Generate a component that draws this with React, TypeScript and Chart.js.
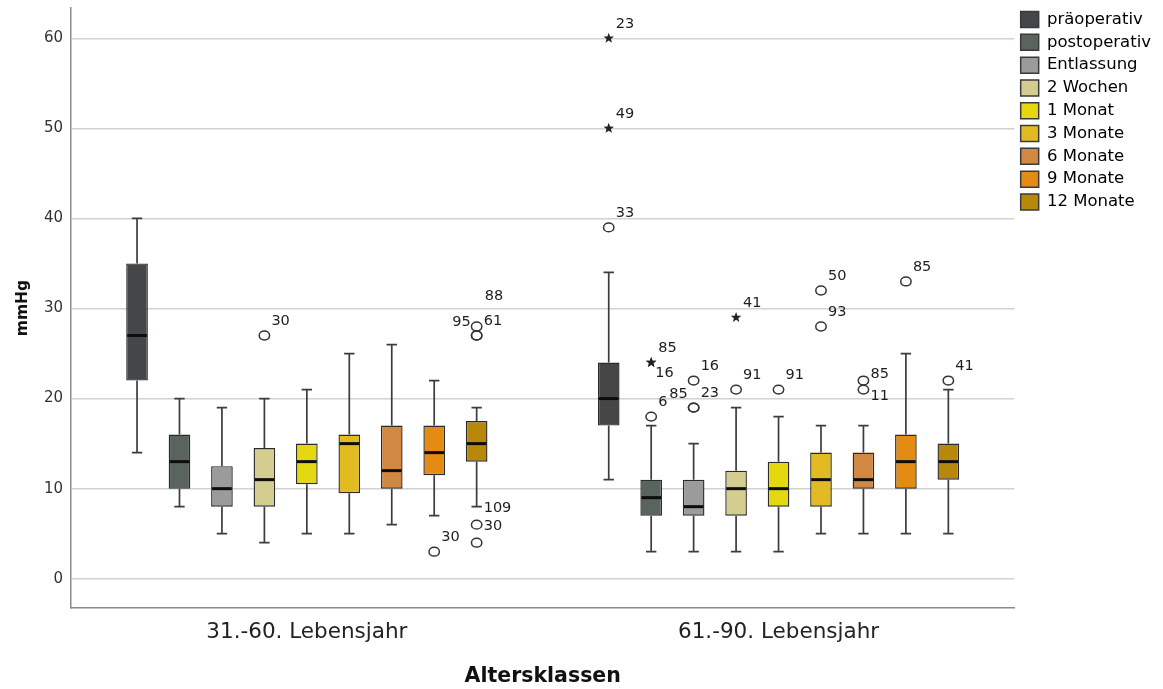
import React, { useEffect, useRef } from 'react';
import { Chart, registerables } from 'chart.js';

Chart.register(...registerables);

// Categories and series
const ageGroups = ['31.-60. Lebensjahr', '61.-90. Lebensjahr'];
const seriesNames = [
  'präoperativ',
  'postoperativ',
  'Entlassung',
  '2 Wochen',
  '1 Monat',
  '3 Monate',
  '6 Monate',
  '9 Monate',
  '12 Monate',
];
const seriesColors = [
  '#444648',
  '#5a645e',
  '#9b9b9b',
  '#d4cd90',
  '#e4d810',
  '#e2bb22',
  '#d08843',
  '#e38b12',
  '#b8880b',
];

// Box statistics for 31.-60. Lebensjahr (one entry per series)
const lowerWhisker31 = [14, 8, 5, 4, 5, 5, 6, 7, 8];
const lowerQuartile31 = [22, 10, 8, 8, 10.5, 9.5, 10, 11.5, 13];
const median31 = [27, 13, 10, 11, 13, 15, 12, 14, 15];
const upperQuartile31 = [35, 16, 12.5, 14.5, 15, 16, 17, 17, 17.5];
const upperWhisker31 = [40, 20, 19, 20, 21, 25, 26, 22, 19];

// Box statistics for 61.-90. Lebensjahr
const lowerWhisker61 = [11, 3, 3, 3, 3, 5, 5, 5, 5];
const lowerQuartile61 = [17, 7, 7, 7, 8, 8, 10, 10, 11];
const median61 = [20, 9, 8, 10, 10, 11, 11, 13, 13];
const upperQuartile61 = [24, 11, 11, 12, 13, 14, 14, 16, 15];
const upperWhisker61 = [34, 17, 15, 19, 18, 17, 17, 25, 21];

// Outliers: series index, value, case number, marker ('o' outlier, '*' extreme, '' case label only)
const outlierSeries31 = [3, 7, 8, 8, 8, 8, 8, 8];
const outlierValues31 = [27, 3, 28, 27, 27, 8, 6, 4];
const outlierCases31 = ['30', '30', '88', '95', '61', '109', '30', ''];
const outlierMarks31 = ['o', 'o', 'o', 'o', 'o', '', 'o', 'o'];

const outlierSeries61 = [0, 0, 0, 1, 1, 1, 2, 2, 2, 3, 3, 4, 5, 5, 6, 6, 7, 8];
const outlierValues61 = [39, 50, 60, 24, 24, 18, 22, 19, 19, 21, 29, 21, 32, 28, 22, 21, 33, 22];
const outlierCases61 = ['33', '49', '23', '85', '16', '6', '16', '85', '23', '91', '41', '91', '50', '93', '85', '11', '85', '41'];
const outlierMarks61 = ['o', '*', '*', '*', '*', 'o', 'o', 'o', 'o', 'o', '*', 'o', 'o', 'o', 'o', 'o', 'o', 'o'];

// Where each case number sits next to its marker
const caseLabelSpots31 = ['ne', 'ne', 'nn', 'nw', 'ne', 'e', 'e', 'ne'];
const caseLabelSpots61 = ['ne', 'ne', 'ne', 'ne', 'se', 'ne', 'ne', 'nw', 'ne', 'ne', 'ne', 'ne', 'ne', 'ne', 'ene', 'ese', 'ne', 'ne'];

const spotOffsets: Record<string, [number, number, CanvasTextAlign]> = {
  ne: [7, -14, 'left'],
  nn: [8, -30, 'left'],
  nw: [-6, -13, 'right'],
  e: [7, 2, 'left'],
  se: [4, 11, 'left'],
  ene: [7, -6, 'left'],
  ese: [7, 7, 'left'],
};

const groupStats = [
  {
    low: lowerWhisker31,
    q1: lowerQuartile31,
    med: median31,
    q3: upperQuartile31,
    high: upperWhisker31,
    oSeries: outlierSeries31,
    oValues: outlierValues31,
    oCases: outlierCases31,
    oMarks: outlierMarks31,
    oSpots: caseLabelSpots31,
  },
  {
    low: lowerWhisker61,
    q1: lowerQuartile61,
    med: median61,
    q3: upperQuartile61,
    high: upperWhisker61,
    oSeries: outlierSeries61,
    oValues: outlierValues61,
    oCases: outlierCases61,
    oMarks: outlierMarks61,
    oSpots: caseLabelSpots61,
  },
];

const FONT = 'DejaVu Sans';

function drawStar(ctx: CanvasRenderingContext2D, cx: number, cy: number, r: number) {
  const inner = r * 0.42;
  ctx.beginPath();
  for (let k = 0; k < 10; k++) {
    const rad = k % 2 === 0 ? r : inner;
    const a = -Math.PI / 2 + (k * Math.PI) / 5;
    const px = cx + rad * Math.cos(a);
    const py = cy + rad * Math.sin(a);
    if (k === 0) ctx.moveTo(px, py);
    else ctx.lineTo(px, py);
  }
  ctx.closePath();
  ctx.fill();
}

// Whiskers, medians and outliers drawn around the floating bars (the boxes)
const boxPlotParts = {
  id: 'boxPlotParts',
  beforeDatasetsDraw(chart: any) {
    const ctx: CanvasRenderingContext2D = chart.ctx;
    const y = chart.scales.y;
    ctx.save();
    ctx.strokeStyle = '#3c3c3c';
    ctx.lineWidth = 1.7;
    chart.data.datasets.forEach((_ds: any, si: number) => {
      const meta = chart.getDatasetMeta(si);
      meta.data.forEach((bar: any, gi: number) => {
        const st = groupStats[gi];
        const x = bar.x;
        const cap = bar.width * 0.24;
        const yLow = y.getPixelForValue(st.low[si]);
        const yQ1 = y.getPixelForValue(st.q1[si]);
        const yQ3 = y.getPixelForValue(st.q3[si]);
        const yHigh = y.getPixelForValue(st.high[si]);
        ctx.beginPath();
        ctx.moveTo(x, yQ1);
        ctx.lineTo(x, yLow);
        ctx.moveTo(x - cap, yLow);
        ctx.lineTo(x + cap, yLow);
        ctx.moveTo(x, yQ3);
        ctx.lineTo(x, yHigh);
        ctx.moveTo(x - cap, yHigh);
        ctx.lineTo(x + cap, yHigh);
        ctx.stroke();
      });
    });
    ctx.restore();
  },
  afterDatasetsDraw(chart: any) {
    const ctx: CanvasRenderingContext2D = chart.ctx;
    const y = chart.scales.y;
    ctx.save();
    // medians
    ctx.strokeStyle = '#0d0d0d';
    ctx.lineWidth = 3;
    chart.data.datasets.forEach((_ds: any, si: number) => {
      const meta = chart.getDatasetMeta(si);
      meta.data.forEach((bar: any, gi: number) => {
        const st = groupStats[gi];
        const ym = y.getPixelForValue(st.med[si]);
        ctx.beginPath();
        ctx.moveTo(bar.x - bar.width / 2 + 1, ym);
        ctx.lineTo(bar.x + bar.width / 2 - 1, ym);
        ctx.stroke();
      });
    });
    // outliers and case numbers
    ctx.font = `14.5px "${FONT}"`;
    ctx.textBaseline = 'middle';
    groupStats.forEach((st, gi) => {
      st.oValues.forEach((v, k) => {
        const bar = chart.getDatasetMeta(st.oSeries[k]).data[gi];
        const x = bar.x;
        const py = y.getPixelForValue(v);
        const mark = st.oMarks[k];
        if (mark === 'o') {
          ctx.strokeStyle = '#333333';
          ctx.lineWidth = 1.5;
          ctx.beginPath();
          ctx.ellipse(x, py, 5.2, 4.4, 0, 0, Math.PI * 2);
          ctx.stroke();
        } else if (mark === '*') {
          ctx.fillStyle = '#222222';
          drawStar(ctx, x, py, 5.5);
        }
        const label = st.oCases[k];
        if (label) {
          const [dx, dy, align] = spotOffsets[st.oSpots[k]];
          ctx.fillStyle = '#1e1e1e';
          ctx.textAlign = align;
          ctx.fillText(label, x + dx, py + dy);
        }
      });
    });
    ctx.restore();
  },
};

export default function App() {
  const canvasRef = useRef<HTMLCanvasElement>(null);

  useEffect(() => {
    if (!canvasRef.current) return;
    Chart.defaults.font.family = FONT;

    const datasets = seriesNames.map((name, si) => ({
      label: name,
      data: groupStats.map((st) => [st.q1[si], st.q3[si]]),
      backgroundColor: seriesColors[si],
      borderColor: '#2b2b2b',
      borderWidth: 1.4,
      borderSkipped: false as const,
      categoryPercentage: 0.81,
      barPercentage: 0.51,
    }));

    const chart = new Chart(canvasRef.current, {
      type: 'bar',
      data: { labels: ageGroups, datasets },
      options: {
        animation: false,
        responsive: true,
        maintainAspectRatio: false,
        events: [],
        layout: { padding: { top: 5, left: 0, right: 2, bottom: 0 } },
        plugins: {
          tooltip: { enabled: false },
          legend: {
            position: 'right',
            align: 'start',
            labels: {
              boxWidth: 18,
              boxHeight: 16,
              padding: 6.3,
              color: '#1e1e1e',
              font: { size: 16.5, family: FONT },
              generateLabels: (c: any) =>
                c.data.datasets.map((ds: any, i: number) => ({
                  text: ds.label,
                  fillStyle: ds.backgroundColor,
                  strokeStyle: '#3a3a3a',
                  lineWidth: 1.5,
                  hidden: false,
                  datasetIndex: i,
                })),
            },
          },
        },
        scales: {
          x: {
            type: 'category',
            grid: { display: false, drawTicks: false },
            border: { display: true, color: '#8c8c8c', width: 1.5 },
            ticks: { color: '#222', padding: 12, font: { size: 21.5, family: FONT } },
            title: {
              display: true,
              text: 'Altersklassen',
              color: '#111',
              font: { size: 20.5, weight: 'bold', family: FONT },
              padding: { top: 0, bottom: 0 },
            },
            afterFit: (s: any) => {
              s.height = 81;
            },
          },
          y: {
            min: -3.25,
            max: 63.36,
            afterBuildTicks: (s: any) => {
              s.ticks = s.ticks.filter(
                (t: any) => t.value >= 0 && Math.abs(t.value / 10 - Math.round(t.value / 10)) < 1e-6,
              );
            },
            grid: { color: '#d2d2d2', lineWidth: 1.5, drawTicks: false },
            border: { display: true, color: '#8c8c8c', width: 1.5 },
            ticks: { stepSize: 10, color: '#333', padding: 8, font: { size: 15, family: FONT } },
            title: {
              display: true,
              text: 'mmHg',
              color: '#111',
              font: { size: 15.5, weight: 'bold', family: FONT },
              padding: { top: 14, bottom: 0 },
            },
            afterFit: (s: any) => {
              s.width = 71;
              s.paddingTop = 8;
              s.paddingBottom = 0;
            },
          },
        },
      },
      plugins: [boxPlotParts],
    } as any);

    return () => chart.destroy();
  }, []);

  return (
    <div style={{ position: 'fixed', left: 0, top: 0, width: 1163, height: 689, background: '#ffffff' }}>
      <canvas ref={canvasRef} />
    </div>
  );
}
